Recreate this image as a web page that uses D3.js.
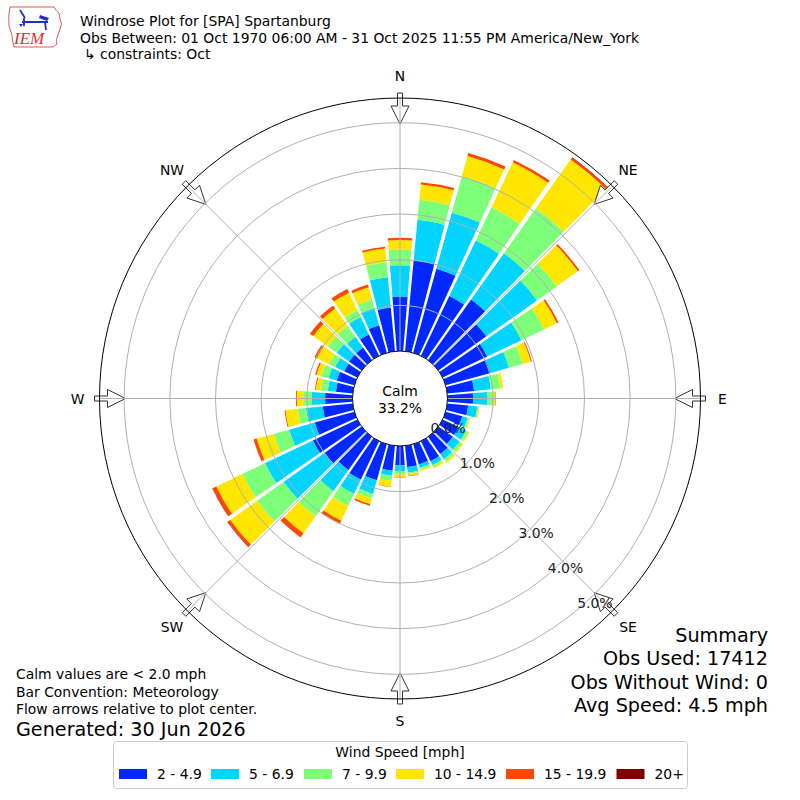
<!DOCTYPE html>
<html>
<head>
  <meta charset="utf-8">
  <style>
    body { margin: 0; background: #fff; }
    svg { font-family: 'DejaVu Sans', sans-serif; }
    .grid { fill: none; stroke: #b0b0b0; stroke-width: 1px; }
    .lbl { font-size: 13.9px; fill: #000; }
    .big { font-size: 19.2px; fill: #000; }
  </style>
</head>
<body>
  <script src="https://cdn.jsdelivr.net/npm/d3@7"></script>
  <script>
  // wind directions (deg) and speed bins
  var directions = [0, 10, 20, 30, 40, 50, 60, 70, 80, 90, 100, 110, 120, 130, 140, 150, 160, 170,
                    180, 190, 200, 210, 220, 230, 240, 250, 260, 270, 280, 290, 300, 310, 320, 330, 340, 350]
  var binLabels = ["2 - 4.9", "5 - 6.9", "7 - 9.9", "10 - 14.9", "15 - 19.9", "20+"]
  var binColors = ["#0028ff", "#00d4ff", "#7dff7a", "#ffe600", "#ff4700", "#7f0000"]

  // frequency [%] per direction for each speed bin
  var s2to5 = [1.19, 2.00, 1.91, 1.45, 1.63, 1.29, 1.08, 1.02, 0.59, 0.56, 0.46, 0.38, 0.39, 0.39, 0.46, 0.49, 0.46, 0.47,
               0.42, 0.55, 0.82, 0.93, 0.89, 1.01, 1.08, 0.90, 0.66, 0.60, 0.37, 0.40, 0.32, 0.34, 0.34, 0.52, 0.63, 0.96]
  var s5to7 = [0.69, 0.89, 1.28, 1.35, 1.24, 1.36, 0.83, 0.42, 0.37, 0.32, 0.20, 0.12, 0.18, 0.18, 0.14, 0.09, 0.08, 0.12,
               0.13, 0.11, 0.31, 0.35, 0.57, 1.09, 1.16, 0.58, 0.37, 0.29, 0.18, 0.19, 0.22, 0.33, 0.29, 0.42, 0.39, 0.67]
  var s7to10 = [0.34, 0.44, 0.82, 0.80, 1.21, 0.53, 0.55, 0.31, 0.21, 0.12, 0.03, 0.04, 0.05, 0.06, 0.06, 0.04, 0.04, 0.03,
                0.07, 0.11, 0.10, 0.29, 0.67, 0.71, 0.55, 0.35, 0.18, 0.19, 0.15, 0.16, 0.15, 0.24, 0.29, 0.17, 0.19, 0.33]
  var s10to15 = [0.21, 0.34, 0.46, 1.09, 1.31, 0.57, 0.31, 0.19, 0.06, 0.05, 0.02, 0.02, 0.03, 0.04, 0.04, 0.04, 0.03, 0.04,
                 0.06, 0.13, 0.13, 0.36, 0.46, 0.72, 0.63, 0.39, 0.27, 0.14, 0.11, 0.11, 0.29, 0.39, 0.47, 0.42, 0.28, 0.30]
  var s15to20 = [0.05, 0.05, 0.07, 0.06, 0.05, 0.04, 0.04, 0.02, 0.00, 0.01, 0.00, 0.00, 0.00, 0.00, 0.00, 0.00, 0.00, 0.01,
                 0.01, 0.01, 0.04, 0.08, 0.11, 0.07, 0.09, 0.07, 0.02, 0.02, 0.02, 0.03, 0.06, 0.09, 0.08, 0.09, 0.06, 0.04]
  var s20up = [0, 0, 0, 0, 0.01, 0, 0, 0, 0, 0, 0, 0, 0, 0, 0, 0, 0, 0,
               0, 0, 0, 0, 0, 0.01, 0.01, 0, 0, 0, 0, 0, 0, 0, 0, 0, 0, 0]

  var ringTicks = [0, 1, 2, 3, 4, 5]
  var compass = ["N", "NE", "E", "SE", "S", "SW", "W", "NW"]
  var compassDeg = [0, 45, 90, 135, 180, 225, 270, 315]
  var calmPct = "33.2%"
  var titleLines = ["Windrose Plot for [SPA] Spartanburg",
                    "Obs Between: 01 Oct 1970 06:00 AM - 31 Oct 2025 11:55 PM America/New_York",
                    "\u21b3 constraints: Oct"]
  var noteLines = ["Calm values are < 2.0 mph", "Bar Convention: Meteorology", "Flow arrows relative to plot center."]
  var summaryLines = ["Summary", "Obs Used: 17412", "Obs Without Wind: 0", "Avg Speed: 4.5 mph"]

  // layout
  var width = 800, height = 800
  var cx = 400, cy = 398.5
  var calmR = 47.5, outerR = 300.5
  var rmax = 5.54
  var rad = Math.PI / 180

  var svg = d3.select("body").append("svg")
    .attr("width", width)
    .attr("height", height)

  var r = d3.scaleLinear().domain([0, rmax]).range([calmR, outerR])

  var series = [s2to5, s5to7, s7to10, s10to15, s15to20, s20up]
  var keys = series.map(function(s, i) { return "b" + i })
  var rows = directions.map(function(d, j) {
    var row = { dir: d }
    series.forEach(function(s, i) { row[keys[i]] = s[j] })
    return row
  })
  var stacked = d3.stack().keys(keys)(rows)

  var g = svg.append("g").attr("transform", "translate(" + cx + "," + cy + ")")

  // bars
  var half = 4.6 * rad
  var arc = d3.arc().padAngle(0.012).padRadius(100)
  stacked.forEach(function(layer, i) {
    g.append("g").selectAll("path")
      .data(layer.filter(function(d) { return d[1] - d[0] > 0 }))
      .join("path")
      .attr("fill", binColors[i])
      .attr("d", function(d) {
        var a = d.data.dir * rad
        return arc({ innerRadius: r(d[0]), outerRadius: r(d[1]), startAngle: a - half, endAngle: a + half })
      })
  })

  // flow arrows
  function pt(u, w, b) {
    var s = Math.sin(b * rad), c = Math.cos(b * rad)
    return [u * s + w * c, -u * c + w * s]
  }
  compassDeg.forEach(function(b) {
    var shape = [[305.5, -2.5], [292.5, -2.5], [292.5, -9], [274.5, 0], [292.5, 9], [292.5, 2.5], [305.5, 2.5]]
    g.append("path")
      .attr("d", "M" + shape.map(function(p) { return pt(p[0], p[1], b).join(",") }).join("L") + "Z")
      .attr("fill", "#fff")
      .attr("stroke", "#333")
      .attr("stroke-width", 1)
  })

  // grid
  compassDeg.forEach(function(b) {
    var p0 = pt(calmR, 0, b), p1 = pt(outerR, 0, b)
    g.append("line").attr("class", "grid")
      .attr("x1", p0[0]).attr("y1", p0[1]).attr("x2", p1[0]).attr("y2", p1[1])
  })
  ringTicks.slice(1).forEach(function(v) {
    g.append("circle").attr("class", "grid").attr("r", r(v))
  })
  g.append("circle").attr("r", outerR).attr("fill", "none").attr("stroke", "#000").attr("stroke-width", 1)
  g.append("circle").attr("r", calmR).attr("fill", "#fff").attr("stroke", "#000").attr("stroke-width", 1)

  // ring labels
  ringTicks.forEach(function(v) {
    var p = pt(r(v), 0, 140)
    g.append("text").attr("class", "lbl")
      .attr("x", p[0] + 17.5).attr("y", p[1] - 6.5)
      .attr("text-anchor", "middle").attr("dominant-baseline", "central")
      .style("fill", "#222")
      .text(v.toFixed(1) + "%")
  })

  // compass labels
  compass.forEach(function(name, i) {
    var p = pt(322.5, 0, compassDeg[i])
    g.append("text").attr("class", "lbl")
      .attr("x", p[0]).attr("y", p[1])
      .attr("text-anchor", "middle").attr("dominant-baseline", "central")
      .text(name)
  })

  // calm text
  g.append("text").attr("class", "lbl").attr("text-anchor", "middle")
    .attr("y", -8).attr("dominant-baseline", "central").text("Calm")
  g.append("text").attr("class", "lbl").attr("text-anchor", "middle")
    .attr("y", 9).attr("dominant-baseline", "central").text(calmPct)

  // titles
  titleLines.forEach(function(t, i) {
    svg.append("text").attr("class", "lbl")
      .attr("x", i == 2 ? 84 : 80).attr("y", 26 + i * 16.5)
      .text(t)
  })

  // logo
  var logo = svg.append("g")
  logo.append("path")
    .attr("d", "M10,7 L54,7 Q56,11 59,13 L60,19 Q63,24 60,29 L58,35 Q55,40 57,44 L53,47 L14,47 Q12,41 12,35 L9,26 Q8,16 10,7 Z")
    .attr("fill", "none").attr("stroke", "#d43030").attr("stroke-width", 0.8)
  logo.append("path").attr("d", "M20,10 L25,18 M22,22 L48,22 M24,18 L24,26 M45,22 L46,30")
    .attr("stroke", "#1f2fbf").attr("stroke-width", 1.8).attr("fill", "none")
  logo.append("path").attr("d", "M40,15 L49,18 L47,21 L39,18 Z").attr("fill", "#1f2fbf")
  logo.append("path").attr("d", "M19,24 L23,24 L21,27 Z").attr("fill", "#1f2fbf")
  logo.append("text").attr("x", 14).attr("y", 44)
    .style("font-family", "'Liberation Serif', serif").style("font-style", "italic")
    .style("font-size", "17px").style("fill", "#d43030").text("IEM")

  // notes
  noteLines.forEach(function(t, i) {
    svg.append("text").attr("class", "lbl").attr("x", 16).attr("y", 679 + i * 17.5).text(t)
  })
  svg.append("text").attr("class", "big").attr("x", 16).attr("y", 736).text("Generated: 30 Jun 2026")

  summaryLines.forEach(function(t, i) {
    svg.append("text").attr("class", "big").attr("x", 768).attr("y", 642 + i * 23.4)
      .attr("text-anchor", "end").text(t)
  })

  // legend
  var lg = svg.append("g")
  lg.append("rect").attr("x", 113.5).attr("y", 741.5).attr("width", 574).attr("height", 47)
    .attr("rx", 3).attr("fill", "#fff").attr("stroke", "#cccccc")
  lg.append("text").attr("class", "lbl").attr("x", 400).attr("y", 752)
    .attr("text-anchor", "middle").attr("dominant-baseline", "central").text("Wind Speed [mph]")
  var legX = [119, 211, 304, 396, 506, 616.5]
  binLabels.forEach(function(t, i) {
    lg.append("rect").attr("x", legX[i]).attr("y", 769).attr("width", 28).attr("height", 10)
      .attr("fill", binColors[i])
    lg.append("text").attr("class", "lbl").attr("x", legX[i] + 38).attr("y", 774)
      .attr("dominant-baseline", "central").text(t)
  })
  </script>
</body>
</html>
